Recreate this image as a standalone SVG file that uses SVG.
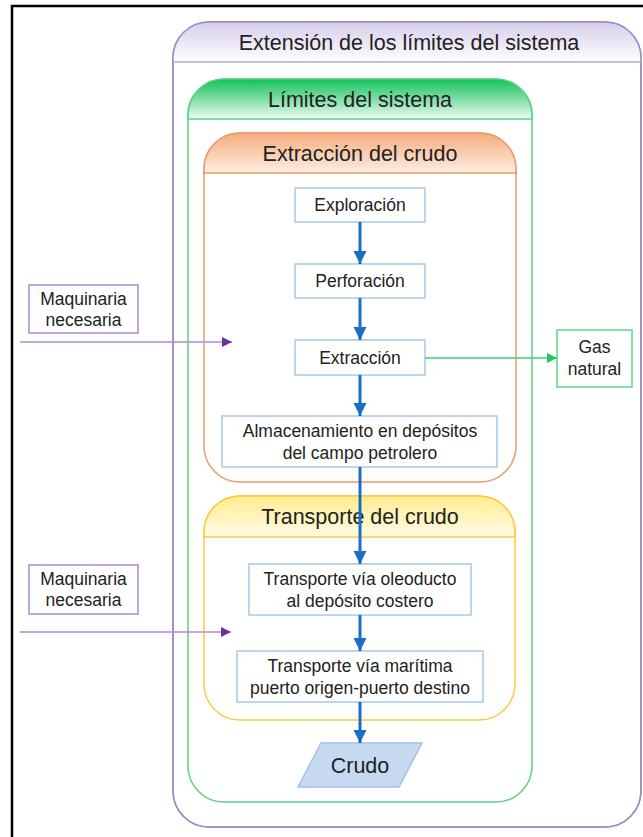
<svg xmlns="http://www.w3.org/2000/svg" width="643" height="837" viewBox="0 0 643 837">
<style>
text{font-family:"Liberation Sans",Arial,sans-serif;fill:#222;text-anchor:middle}
.t{font-size:21.5px}
.b{font-size:17.5px}
.box{fill:#fff;stroke:#a8c7ec;stroke-width:1.5}
.blue{stroke:#1a6fc4;stroke-width:3;fill:none;marker-end:url(#ab)}
</style>
<defs>
<linearGradient id="gp" x1="0" y1="0" x2="0" y2="1"><stop offset="0" stop-color="#d6cdea"/><stop offset="1" stop-color="#ffffff"/></linearGradient>
<linearGradient id="gg" x1="0" y1="0" x2="0" y2="1"><stop offset="0" stop-color="#12c15a"/><stop offset="1" stop-color="#eefaf2"/></linearGradient>
<linearGradient id="go" x1="0" y1="0" x2="0" y2="1"><stop offset="0" stop-color="#f5ac7c"/><stop offset="1" stop-color="#fdeee2"/></linearGradient>
<linearGradient id="gy" x1="0" y1="0" x2="0" y2="1"><stop offset="0" stop-color="#ffec8f"/><stop offset="1" stop-color="#fffce6"/></linearGradient>
<marker id="ab" viewBox="0 0 10 10" refX="10" refY="5" markerWidth="4.5" markerHeight="4.5" orient="auto" markerUnits="strokeWidth"><path d="M0,0L10,5L0,10z" fill="#1a6fc4"/></marker>
<marker id="ap" viewBox="0 0 10 10" refX="10" refY="5" markerWidth="10" markerHeight="10" orient="auto" markerUnits="userSpaceOnUse"><path d="M0,0L10,5L0,10z" fill="#7030a0"/></marker>
<marker id="ag" viewBox="0 0 10 10" refX="10" refY="5" markerWidth="10" markerHeight="10" orient="auto" markerUnits="userSpaceOnUse"><path d="M0,0L10,5L0,10z" fill="#22c55e"/></marker>
</defs>
<rect width="643" height="837" fill="#fff"/>
<path d="M12,837V6H643" fill="none" stroke="#000" stroke-width="2.5"/>

<g id="ext">
<rect x="173" y="22" width="468" height="805" rx="36" fill="#fff" stroke="#9a8ec2" stroke-width="1.5"/>
<path d="M173,62V58A36,36 0 0 1 209,22H605A36,36 0 0 1 641,58V62Z" fill="url(#gp)"/>
<rect x="173" y="22" width="468" height="805" rx="36" fill="none" stroke="#9a8ec2" stroke-width="1.5"/>
<line x1="173" y1="62" x2="641" y2="62" stroke="#b3a9d3" stroke-width="1.5"/>
<text class="t" x="409" y="50">Extensión de los límites del sistema</text>
</g>

<g id="lim">
<rect x="188" y="79" width="344" height="723" rx="36" fill="#fff" stroke="#5fcf85" stroke-width="1.5"/>
<path d="M188,119V115A36,36 0 0 1 224,79H496A36,36 0 0 1 532,115V119Z" fill="url(#gg)" stroke="#5fcf85" stroke-width="1.5"/>
<text class="t" x="360" y="107">Límites del sistema</text>
</g>

<g id="extr">
<rect x="204" y="133" width="312" height="349" rx="36" fill="#fff" stroke="#ea9a6c" stroke-width="1.5"/>
<path d="M204,173V169A36,36 0 0 1 240,133H480A36,36 0 0 1 516,169V173Z" fill="url(#go)" stroke="#ea9a6c" stroke-width="1.5"/>
<text class="t" x="360" y="161">Extracción del crudo</text>
</g>

<g id="trans">
<rect x="204" y="496" width="311" height="224" rx="36" fill="#fff" stroke="#ffc840" stroke-width="1.5"/>
<path d="M204,537V532A36,36 0 0 1 240,496H479A36,36 0 0 1 515,532V537Z" fill="url(#gy)" stroke="#ffc840" stroke-width="1.5"/>
<text class="t" x="360" y="524">Transporte del crudo</text>
</g>

<g id="n1"><rect class="box" x="295" y="188" width="130" height="34"/><text class="b" x="360" y="211">Exploración</text></g>
<g id="n2"><rect class="box" x="295" y="264" width="130" height="34"/><text class="b" x="360" y="287">Perforación</text></g>
<g id="n3"><rect class="box" x="295" y="340" width="130" height="35"/><text class="b" x="360" y="364">Extracción</text></g>
<g id="n4"><rect class="box" x="222" y="416" width="275" height="51"/><text class="b" x="360" y="437">Almacenamiento en depósitos</text><text class="b" x="360" y="459">del campo petrolero</text></g>
<g id="n5"><rect class="box" x="249" y="564" width="222" height="51"/><text class="b" x="360" y="585">Transporte vía oleoducto</text><text class="b" x="360" y="607">al depósito costero</text></g>
<g id="n6"><rect class="box" x="237" y="651" width="246" height="51"/><text class="b" x="360" y="672">Transporte vía marítima</text><text class="b" x="360" y="694">puerto origen-puerto destino</text></g>
<g id="n7"><path d="M321,743H422L399,787H298Z" fill="#c6d9f1" stroke="#a3c2e8" stroke-width="1.5"/><text class="t" x="360" y="773">Crudo</text></g>
<g id="m1"><rect x="29" y="285" width="109" height="48" fill="#fff" stroke="#b088d0" stroke-width="1.5"/><text class="b" x="83.5" y="305">Maquinaria</text><text class="b" x="83.5" y="326">necesaria</text></g>
<g id="m2"><rect x="29" y="565" width="109" height="49" fill="#fff" stroke="#b088d0" stroke-width="1.5"/><text class="b" x="83.5" y="585">Maquinaria</text><text class="b" x="83.5" y="606">necesaria</text></g>
<g id="gas"><rect x="557" y="330" width="75" height="57" fill="#fff" stroke="#5fd88a" stroke-width="1.5"/><text class="b" x="594.5" y="353">Gas</text><text class="b" x="594.5" y="375">natural</text></g>

<g id="connectors">
<line class="blue" x1="360" y1="222" x2="360" y2="264"/>
<line class="blue" x1="360" y1="298" x2="360" y2="340"/>
<line class="blue" x1="360" y1="375" x2="360" y2="416"/>
<line class="blue" x1="360" y1="467" x2="360" y2="564"/>
<line class="blue" x1="360" y1="615" x2="360" y2="651"/>
<line class="blue" x1="360" y1="702" x2="360" y2="743"/>
<line x1="20" y1="342" x2="232" y2="342" stroke="#b58ad6" stroke-width="1.5" marker-end="url(#ap)"/>
<line x1="20" y1="632" x2="231" y2="632" stroke="#b58ad6" stroke-width="1.5" marker-end="url(#ap)"/>
<line x1="425" y1="358" x2="557" y2="358" stroke="#3ccf70" stroke-width="1.5" marker-end="url(#ag)"/>
</g>
</svg>
